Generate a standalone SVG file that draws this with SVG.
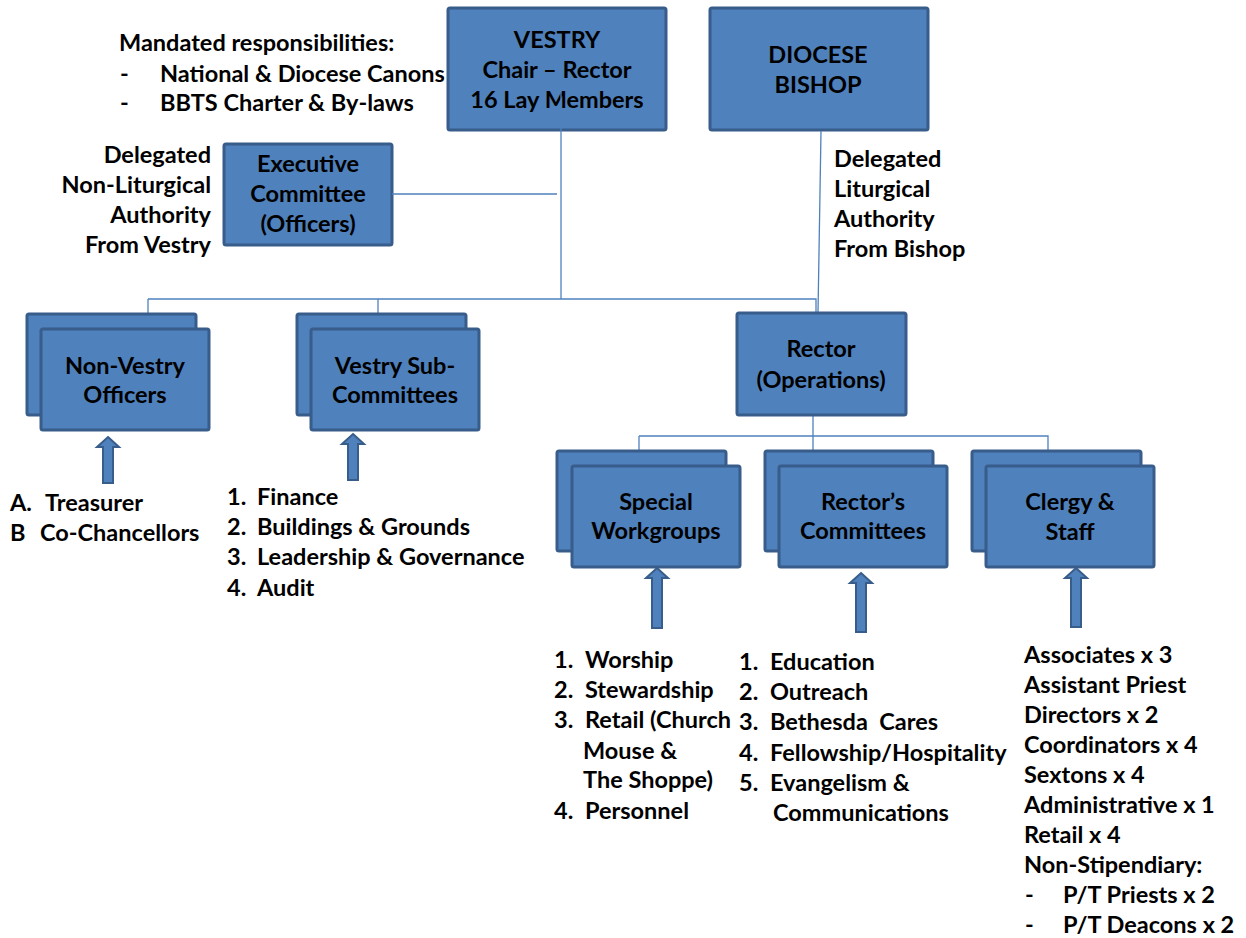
<svg xmlns="http://www.w3.org/2000/svg" width="1246" height="938" viewBox="0 0 1246 938">
<defs>
<style>
.box{fill:#4F81BD;stroke:#385D8A;stroke-width:3}
.t{font-family:Lato,"Open Sans",sans-serif;font-weight:bold;font-size:23.5px;fill:#000}
.c{text-anchor:middle}
.r{text-anchor:end}
.ln{stroke:#4F81BD;stroke-width:1.3;fill:none}
.arr{fill:#4F81BD;stroke:#385D8A;stroke-width:2;stroke-linejoin:miter}
</style>
</defs>
<rect width="1246" height="938" fill="#fff"/>

<g id="vestry">
<rect class="box" x="448" y="8" width="218" height="122" rx="2"/>
<text class="t c" x="557" y="48">VESTRY</text>
<text class="t c" x="557" y="78">Chair – Rector</text>
<text class="t c" x="557" y="108">16 Lay Members</text>
</g>

<g id="diocese">
<rect class="box" x="710" y="8" width="218" height="122" rx="2"/>
<text class="t c" x="818" y="63">DIOCESE</text>
<text class="t c" x="818" y="93">BISHOP</text>
</g>

<g id="mandated">
<text class="t" x="119" y="51">Mandated responsibilities:</text>
<text class="t" x="120" y="82">-</text>
<text class="t" x="160" y="82">National &amp; Diocese Canons</text>
<text class="t" x="120" y="111">-</text>
<text class="t" x="160" y="111">BBTS Charter &amp; By-laws</text>
</g>

<g id="executive">
<rect class="box" x="224" y="144" width="168" height="101" rx="2"/>
<text class="t c" x="308" y="172">Executive</text>
<text class="t c" x="308" y="202">Committee</text>
<text class="t c" x="308" y="232">(Officers)</text>
</g>

<g id="delegated-nonliturgical">
<text class="t r" x="211" y="163">Delegated</text>
<text class="t r" x="211" y="193">Non-Liturgical</text>
<text class="t r" x="211" y="223">Authority</text>
<text class="t r" x="211" y="253">From Vestry</text>
</g>

<g id="delegated-liturgical">
<text class="t" x="834" y="167">Delegated</text>
<text class="t" x="834" y="197">Liturgical</text>
<text class="t" x="834" y="227">Authority</text>
<text class="t" x="834" y="257">From Bishop</text>
</g>

<g id="connectors">
<path class="ln" d="M561,84 V299"/>
<path class="ln" d="M392,194 H557"/>
<path class="ln" d="M148,299 H816 V313"/>
<path class="ln" d="M148,299 V314"/>
<path class="ln" d="M378,299 V314"/>
<path class="ln" d="M821,131 L818,313"/>
<path class="ln" d="M813,415 V451"/>
<path class="ln" d="M639,436 H1048 V451"/>
<path class="ln" d="M639,436 V451"/>
<path class="arr" d="M108,437 L119,447 L113,447 L113,483 L103,483 L103,447 L97,447 Z"/>
<path class="arr" d="M353,434 L364,444 L358,444 L358,480 L348,480 L348,444 L342,444 Z"/>
<path class="arr" d="M657,568 L668,578 L662,578 L662,628 L652,628 L652,578 L646,578 Z"/>
<path class="arr" d="M861,573 L872,583 L866,583 L866,632 L856,632 L856,583 L850,583 Z"/>
<path class="arr" d="M1076,568 L1087,578 L1081,578 L1081,627 L1071,627 L1071,578 L1065,578 Z"/>
</g>

<g id="non-vestry-officers">
<rect class="box" x="27" y="314" width="169" height="101" rx="2"/>
<rect class="box" x="41" y="329" width="168" height="101" rx="2"/>
<text class="t c" x="125" y="374">Non-Vestry</text>
<text class="t c" x="125" y="403">Officers</text>
</g>

<g id="vestry-sub-committees">
<rect class="box" x="297" y="314" width="169" height="101" rx="2"/>
<rect class="box" x="311" y="329" width="168" height="101" rx="2"/>
<text class="t c" x="395" y="374">Vestry Sub-</text>
<text class="t c" x="395" y="403">Committees</text>
</g>

<g id="rector">
<rect class="box" x="737" y="313" width="169" height="102" rx="2"/>
<text class="t c" x="821" y="357">Rector</text>
<text class="t c" x="821" y="388">(Operations)</text>
</g>

<g id="special-workgroups">
<rect class="box" x="557" y="451" width="169" height="100" rx="2"/>
<rect class="box" x="572" y="466" width="168" height="101" rx="2"/>
<text class="t c" x="656" y="510">Special</text>
<text class="t c" x="656" y="539">Workgroups</text>
</g>

<g id="rectors-committees">
<rect class="box" x="765" y="451" width="168" height="100" rx="2"/>
<rect class="box" x="779" y="466" width="168" height="101" rx="2"/>
<text class="t c" x="863" y="510">Rector’s</text>
<text class="t c" x="863" y="539">Committees</text>
</g>

<g id="clergy-staff">
<rect class="box" x="972" y="451" width="169" height="100" rx="2"/>
<rect class="box" x="986" y="466" width="168" height="101" rx="2"/>
<text class="t c" x="1070" y="510">Clergy &amp;</text>
<text class="t c" x="1070" y="540">Staff</text>
</g>

<g id="officers-list">
<text class="t" x="10" y="511">A.</text>
<text class="t" x="45" y="511">Treasurer</text>
<text class="t" x="10" y="541">B</text>
<text class="t" x="40" y="541">Co-Chancellors</text>
</g>

<g id="subcommittees-list">
<text class="t" x="227" y="505">1.</text>
<text class="t" x="257" y="505">Finance</text>
<text class="t" x="227" y="535">2.</text>
<text class="t" x="257" y="535">Buildings &amp; Grounds</text>
<text class="t" x="227" y="565">3.</text>
<text class="t" x="257" y="565">Leadership &amp; Governance</text>
<text class="t" x="227" y="596">4.</text>
<text class="t" x="257" y="596">Audit</text>
</g>

<g id="workgroups-list">
<text class="t" x="554" y="668">1.</text>
<text class="t" x="585" y="668">Worship</text>
<text class="t" x="554" y="698">2.</text>
<text class="t" x="585" y="698">Stewardship</text>
<text class="t" x="554" y="728">3.</text>
<text class="t" x="585" y="728">Retail (Church</text>
<text class="t" x="583" y="759">Mouse &amp;</text>
<text class="t" x="583" y="788">The Shoppe)</text>
<text class="t" x="554" y="819">4.</text>
<text class="t" x="585" y="819">Personnel</text>
</g>

<g id="committees-list">
<text class="t" x="739" y="670">1.</text>
<text class="t" x="770" y="670">Education</text>
<text class="t" x="739" y="700">2.</text>
<text class="t" x="770" y="700">Outreach</text>
<text class="t" x="739" y="730">3.</text>
<text class="t" x="770" y="730" xml:space="preserve">Bethesda  Cares</text>
<text class="t" x="739" y="761">4.</text>
<text class="t" x="770" y="761">Fellowship/Hospitality</text>
<text class="t" x="739" y="791">5.</text>
<text class="t" x="770" y="791">Evangelism &amp;</text>
<text class="t" x="773" y="821">Communications</text>
</g>

<g id="staff-list">
<text class="t" x="1024" y="663">Associates x 3</text>
<text class="t" x="1024" y="693">Assistant Priest</text>
<text class="t" x="1024" y="723">Directors x 2</text>
<text class="t" x="1024" y="753">Coordinators x 4</text>
<text class="t" x="1024" y="783">Sextons x 4</text>
<text class="t" x="1024" y="813">Administrative x 1</text>
<text class="t" x="1024" y="843">Retail x 4</text>
<text class="t" x="1024" y="873">Non-Stipendiary:</text>
<text class="t" x="1025" y="903">-</text>
<text class="t" x="1063" y="903">P/T Priests x 2</text>
<text class="t" x="1025" y="933">-</text>
<text class="t" x="1063" y="933">P/T Deacons x 2</text>
</g>
</svg>
